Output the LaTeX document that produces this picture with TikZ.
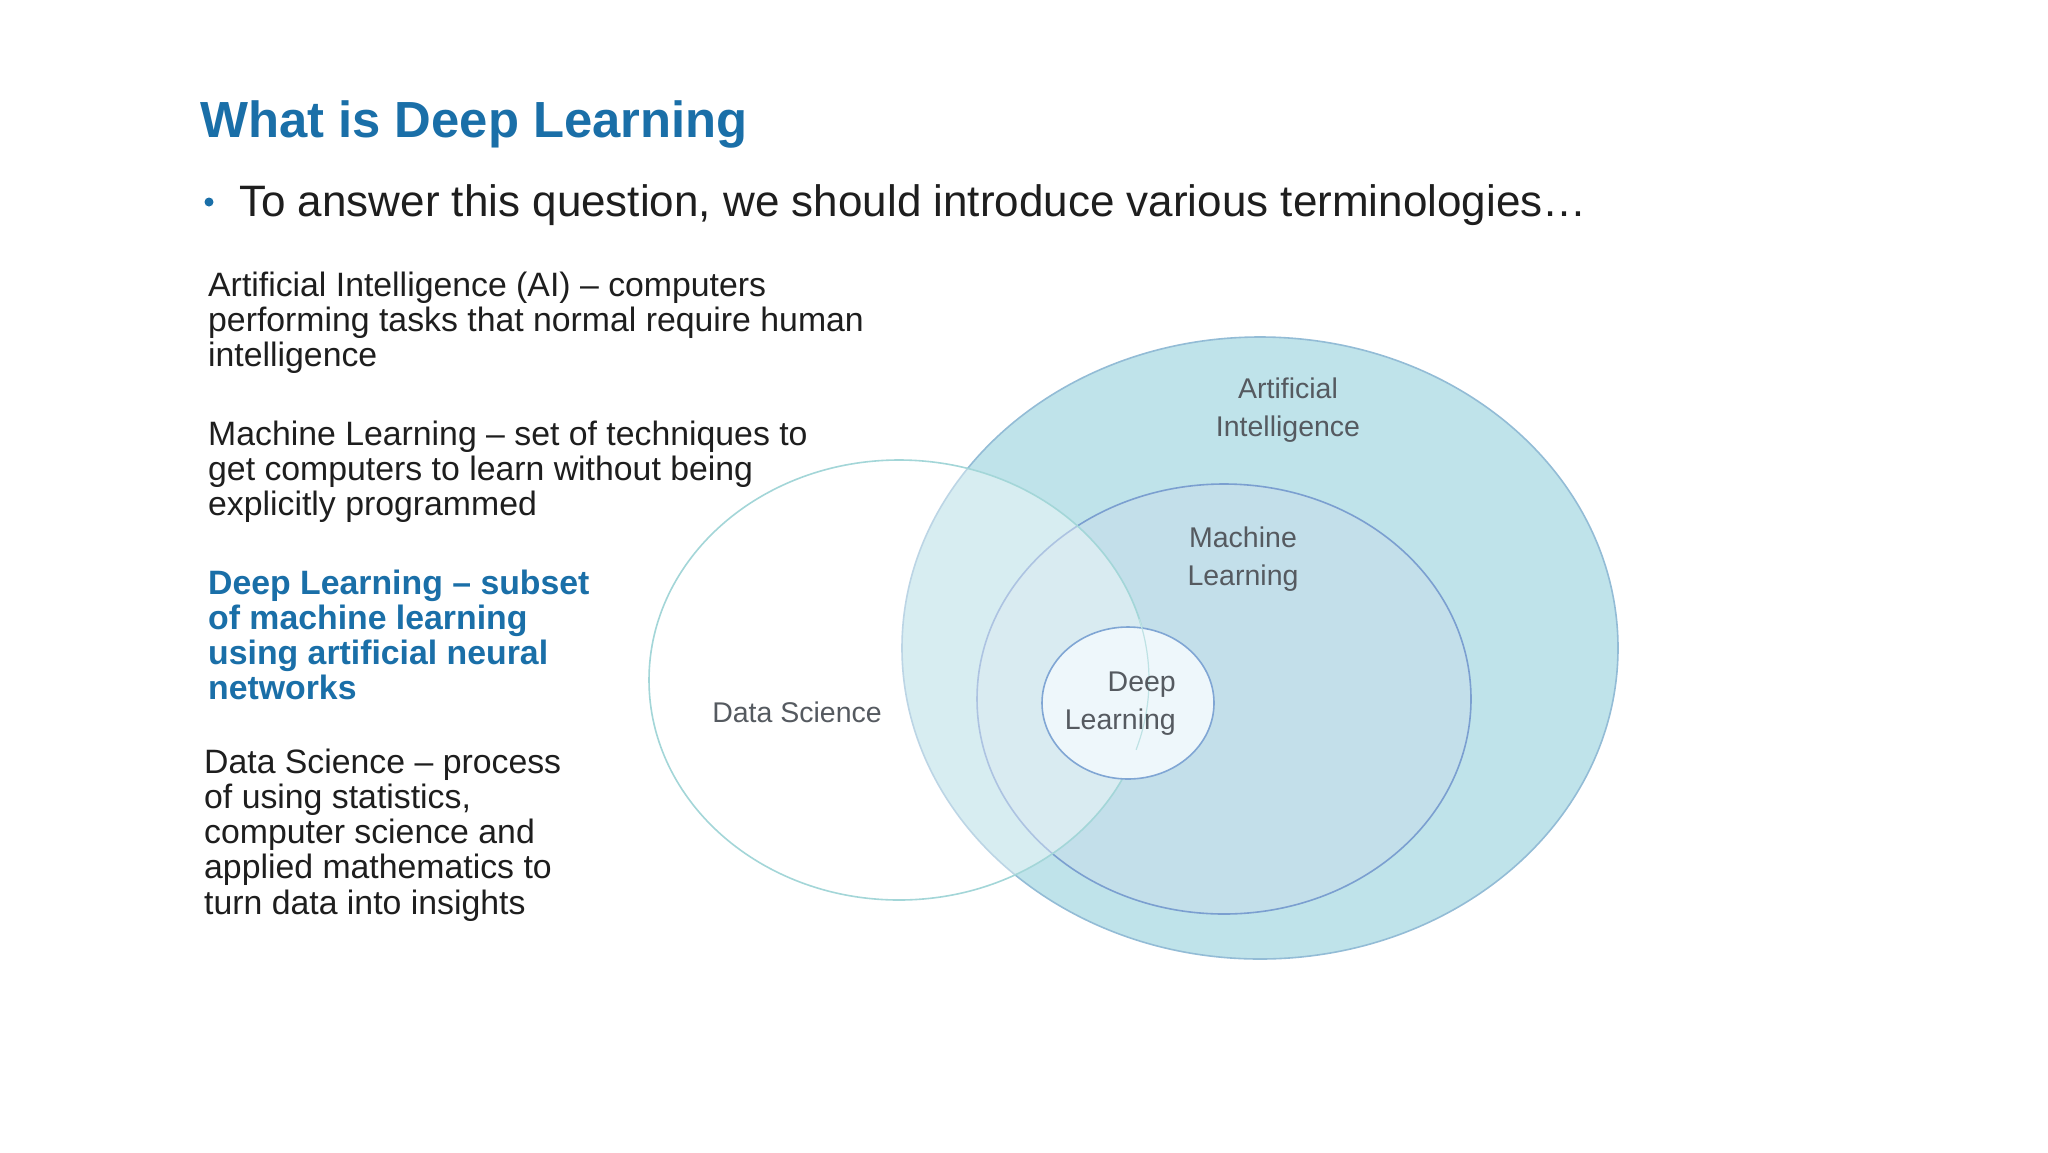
\documentclass[tikz,border=0pt]{standalone}
\usepackage{fontspec}
\setmainfont{Liberation Sans}
\definecolor{titleblue}{HTML}{1A6FA8}
\definecolor{bodytext}{HTML}{1E1E1E}
\definecolor{labelgray}{HTML}{555A60}
\definecolor{aifill}{HTML}{BFE3EA}
\definecolor{aiedge}{HTML}{93BCD6}
\definecolor{mlfill}{HTML}{C3DFEA}
\definecolor{mledge}{HTML}{7B9FD0}
\definecolor{dlfill}{HTML}{EEF7FB}
\definecolor{dledge}{HTML}{80A6D4}
\definecolor{dsedge}{HTML}{A3D6D8}
\usetikzlibrary{shapes.geometric}
\tikzset{
  body/.style={anchor=base west, inner sep=0pt, align=left, text=bodytext,
    font=\fontsize{33.8}{35.3}\selectfont},
  dlbody/.style={body, text=titleblue, font=\fontsize{33.8}{35.3}\selectfont\bfseries},
  vlabel/.style={inner sep=0pt, text=labelgray, font=\fontsize{28.5}{37.5}\selectfont}
}
\begin{document}
\begin{tikzpicture}[x=1pt,y=-1pt]
\useasboundingbox[fill=white] (0,0) rectangle (2048,1152);

% title and bullet
\node[anchor=base west, inner sep=0pt, text=titleblue, font=\fontsize{50.8}{56}\selectfont\bfseries] (title) at (200,137) {What is Deep Learning};
\node[anchor=base west, inner sep=0pt, text=bodytext, font=\fontsize{44}{48}\selectfont] (intro) at (239,216) {To answer this question, we should introduce various terminologies\ldots};
\node[circle, fill=titleblue, minimum size=9pt, inner sep=0pt] (dot) at (209,202) {};

% definitions (anchor = baseline of the last line)
\node[body] (defai) at (208,366.6) {Artificial Intelligence (AI) -- computers\\performing tasks that normal require human\\intelligence};
\node[body] (defml) at (208,515.6) {Machine Learning -- set of techniques to\\get computers to learn without being\\explicitly programmed};
\node[dlbody] (defdl) at (208,699.9) {Deep Learning -- subset\\of machine learning\\using artificial neural\\networks};
\node[body] (defds) at (204,914.2) {Data Science -- process\\of using statistics,\\computer science and\\applied mathematics to\\turn data into insights};

% Venn diagram
\path[fill=aifill, draw=aiedge, line width=1.6pt] (1260,648) ellipse [x radius=358, y radius=311];
\coordinate (aic) at (1260,648);
\path[fill=mlfill, draw=mledge, line width=1.6pt] (1224,699) ellipse [x radius=247, y radius=215];
\coordinate (mlc) at (1224,699);
\path[fill=white, fill opacity=0.38, draw=dsedge, line width=1.6pt] (899,680) ellipse [x radius=250, y radius=220];
\coordinate (dsc) at (899,680);
\path[fill=dlfill, draw=dledge, line width=1.6pt] (1128,703) ellipse [x radius=86, y radius=76];
\coordinate (dlc) at (1128,703);
\draw[dsedge!70!white, line width=1.2pt] (899,680) ++(18.5:250 and 220) arc[start angle=18.5, end angle=-16, x radius=250, y radius=220];

% labels (anchor = baseline of the last line)
\node[vlabel, anchor=base, align=center] (lai) at (1288,436) {Artificial\\Intelligence};
\node[vlabel, anchor=base, align=center] (lml) at (1243,585) {Machine\\Learning};
\node[vlabel, anchor=base east, align=right] (ldl) at (1176,729) {Deep\\Learning};
\node[vlabel, anchor=base] (lds) at (797,722) {Data Science};
\end{tikzpicture}
\end{document}
